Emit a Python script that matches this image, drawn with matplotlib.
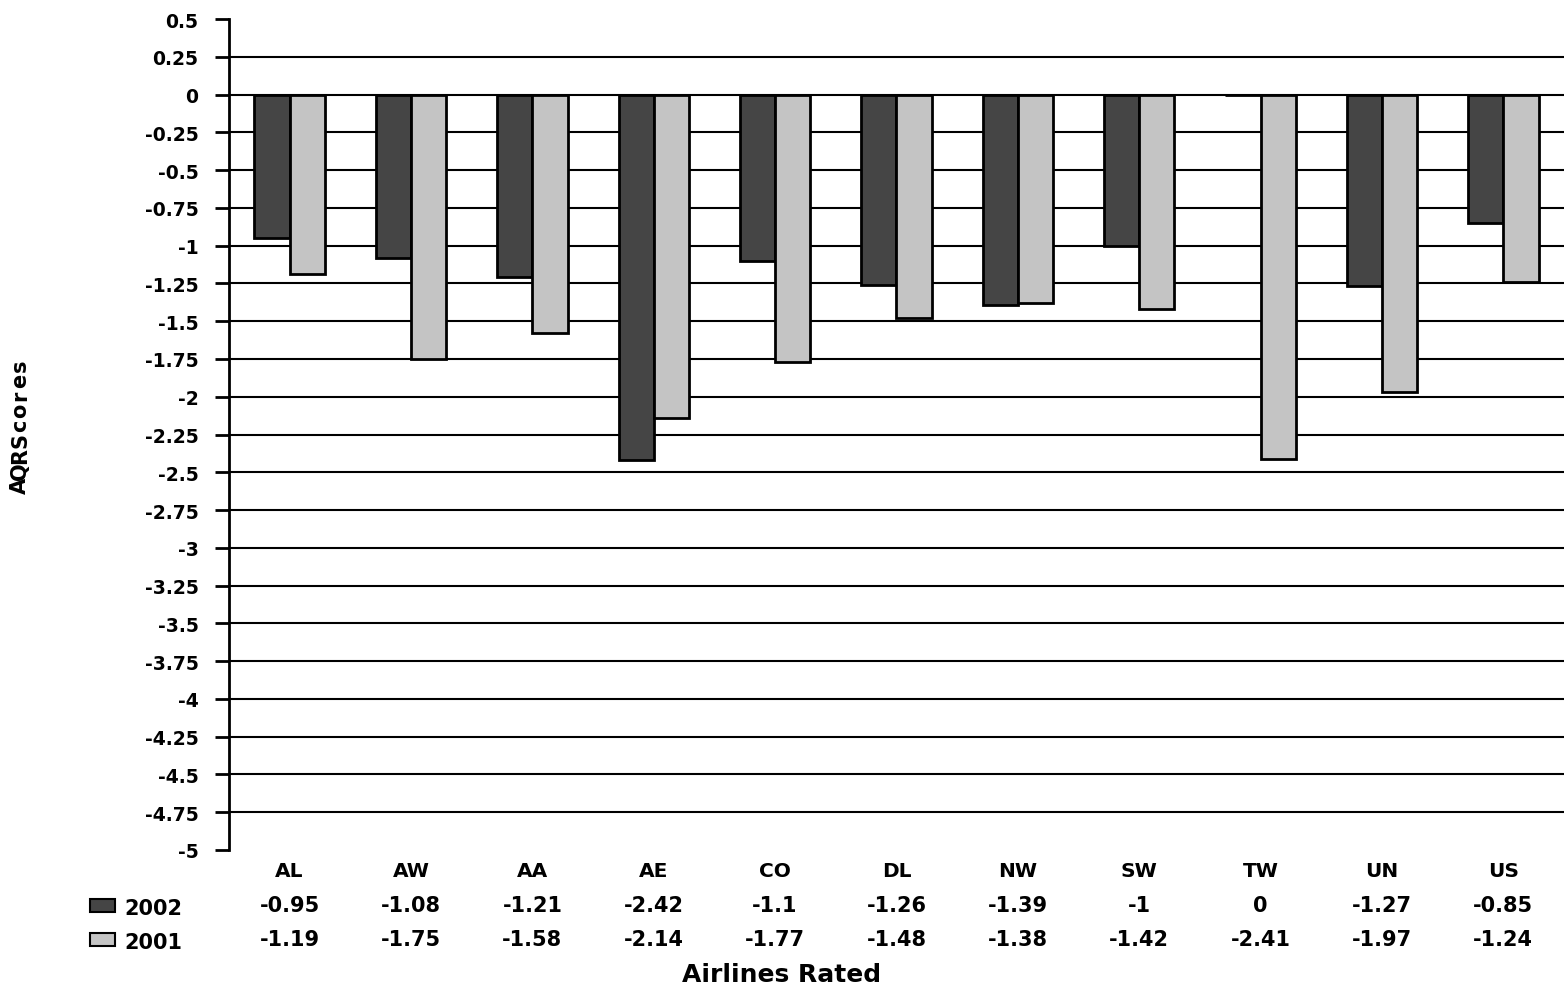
import numpy as np
import matplotlib
matplotlib.use("Agg")
import matplotlib.pyplot as plt
from matplotlib.patches import Rectangle
from matplotlib.transforms import blended_transform_factory

plt.rcParams['font.family'] = ['DejaVu Sans']
plt.rcParams['font.weight'] = 'bold'

# AQR scores by airline
airlines = ['AL', 'AW', 'AA', 'AE', 'CO', 'DL', 'NW', 'SW', 'TW', 'UN', 'US']
scores_2002 = [-0.95, -1.08, -1.21, -2.42, -1.1, -1.26, -1.39, -1, 0, -1.27, -0.85]
scores_2001 = [-1.19, -1.75, -1.58, -2.14, -1.77, -1.48, -1.38, -1.42, -2.41, -1.97, -1.24]
series_names = ['2002', '2001']
yticks = np.arange(-5, 0.51, 0.25)

dark = '#454545'
light = '#c4c4c4'

fig = plt.figure(figsize=(15.64, 9.87), dpi=100)
ax = fig.add_axes([0.1464, 0.1378, 0.8536, 0.8419])

x = np.arange(len(airlines))
w = 0.29
ax.bar(x - w / 2, scores_2002, w, color=dark, edgecolor='black', linewidth=2, zorder=3)
ax.bar(x + w / 2, scores_2001, w, color=light, edgecolor='black', linewidth=2, zorder=3)

ax.set_xlim(-0.5, len(airlines) - 0.5)
ax.set_ylim(-5, 0.5)
ax.set_yticks(yticks)
ax.set_yticklabels(['%g' % t for t in yticks], fontsize=13.5, fontweight='bold')
ax.tick_params(axis='y', length=10, width=2, pad=12)
ax.set_xticks([])

# horizontal gridlines (none at the top and bottom limits)
for t in yticks[1:-1]:
    ax.axhline(t, color='black', linewidth=1.5, zorder=1)

for s in ['top', 'right', 'bottom']:
    ax.spines[s].set_visible(False)
ax.spines['left'].set_linewidth(2)

# data table under the plot
tr = blended_transform_factory(ax.transData, fig.transFigure)
for i, name in enumerate(airlines):
    ax.text(i, 0.1175, name, transform=tr, ha='center', va='center', fontsize=14.5, fontweight='bold')
    ax.text(i, 0.0821, '%g' % scores_2002[i], transform=tr, ha='center', va='center', fontsize=15, fontweight='bold')
    ax.text(i, 0.0476, '%g' % scores_2001[i], transform=tr, ha='center', va='center', fontsize=15, fontweight='bold')

# legend keys in the table
for yy, col, name in [(0.0821, dark, series_names[0]), (0.0476, light, series_names[1])]:
    fig.patches.append(Rectangle((90 / 1564, yy - 0.0075), 25 / 1564, 0.014, transform=fig.transFigure,
                                 facecolor=col, edgecolor='black', linewidth=1.5))
    fig.text(124 / 1564, yy - 0.003, name, ha='left', va='center', fontsize=15, fontweight='bold')

fig.text(0.5, 0.0122, 'Airlines Rated', ha='center', va='center', fontsize=18, fontweight='bold')

# squeezed vertical axis title
ylabel = 'AQRScores'
for k, ch in enumerate(ylabel):
    fig.text(20 / 1564, 1 - (486 - k * 15) / 987, ch, rotation=90, ha='center', va='center',
             fontsize=15, fontweight='bold')

fig.savefig('out.png', dpi=100)
